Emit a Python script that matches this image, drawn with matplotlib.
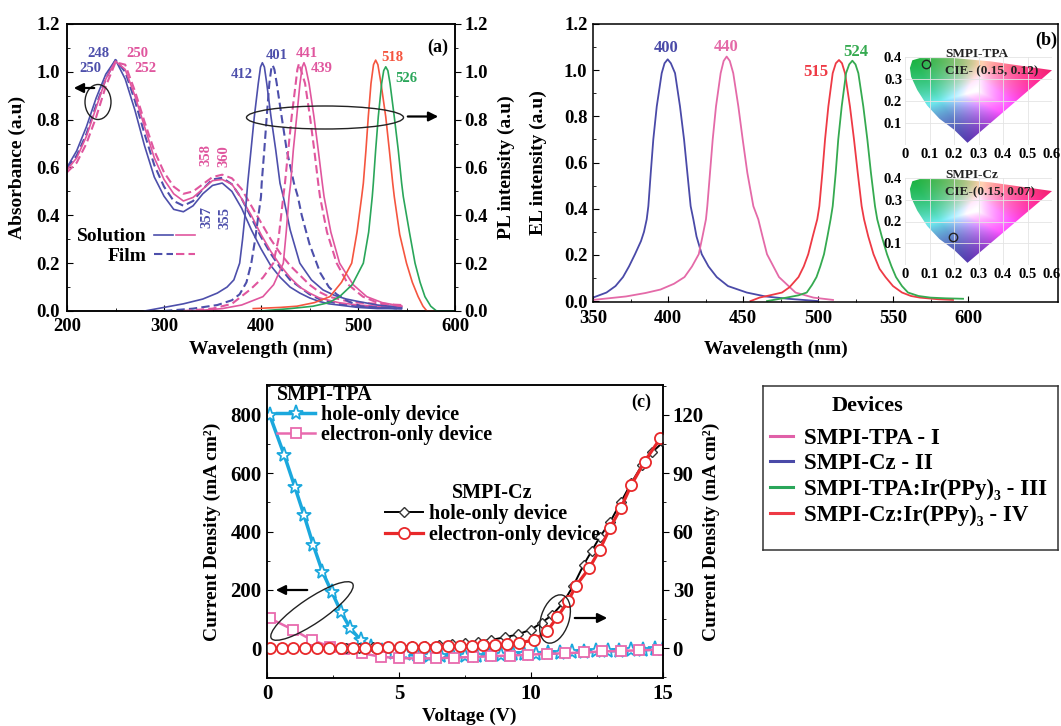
import numpy as np
import matplotlib
matplotlib.use("Agg")
import matplotlib.pyplot as plt
from matplotlib.patches import Ellipse, Polygon, FancyArrowPatch
from matplotlib.lines import Line2D
from matplotlib.legend_handler import HandlerTuple
from matplotlib.ticker import MultipleLocator, FixedLocator, FormatStrFormatter

plt.rcParams['font.family'] = ['Liberation Serif', 'DejaVu Serif']
plt.rcParams['font.weight'] = 'bold'
plt.rcParams['axes.labelweight'] = 'bold'
plt.rcParams['axes.linewidth'] = 1.1

# ============================================================
# (a) Absorption + PL
# ============================================================
abs_wl = [200, 210, 220, 230, 240, 250, 260, 270, 280, 290, 300, 310, 320, 330, 340, 350,
          360, 370, 380, 390, 400, 410, 420, 430, 440, 450, 460, 470, 480, 490, 500, 520, 545]
abs_cz_sol = [0.60, 0.67, 0.77, 0.89, 0.99, 1.05, 0.97, 0.84, 0.69, 0.56, 0.48, 0.425, 0.415,
              0.44, 0.49, 0.525, 0.535, 0.50, 0.43, 0.34, 0.26, 0.19, 0.14, 0.10, 0.075, 0.055,
              0.04, 0.03, 0.025, 0.02, 0.015, 0.01, 0.01]
abs_cz_film = [0.60, 0.65, 0.74, 0.86, 0.97, 1.05, 1.00, 0.88, 0.74, 0.61, 0.52, 0.46, 0.44,
               0.46, 0.51, 0.55, 0.557, 0.53, 0.47, 0.39, 0.31, 0.24, 0.18, 0.13, 0.10, 0.07,
               0.05, 0.04, 0.03, 0.025, 0.02, 0.015, 0.01]
abs_tpa_sol = [0.59, 0.64, 0.73, 0.85, 0.97, 1.045, 1.01, 0.90, 0.77, 0.64, 0.55, 0.49, 0.46,
               0.475, 0.51, 0.545, 0.55, 0.53, 0.47, 0.40, 0.32, 0.25, 0.19, 0.14, 0.10, 0.075,
               0.055, 0.045, 0.035, 0.03, 0.025, 0.02, 0.02]
abs_tpa_film = [0.58, 0.62, 0.70, 0.81, 0.94, 1.04, 1.03, 0.92, 0.79, 0.67, 0.58, 0.52, 0.49,
                0.50, 0.53, 0.56, 0.57, 0.555, 0.51, 0.44, 0.37, 0.30, 0.24, 0.19, 0.15, 0.11,
                0.08, 0.06, 0.05, 0.04, 0.035, 0.03, 0.025]

pl_cz_sol_wl = [280, 300, 320, 340, 355, 365, 372, 378, 381, 384, 386.3, 389.7, 393.1, 397.2,
                399.5, 401.4, 403.5, 405.9, 410.3, 415.2, 419.6, 423, 430, 440, 452, 464, 476,
                488, 500, 520, 545]
pl_cz_sol = [0.0, 0.015, 0.03, 0.05, 0.075, 0.1, 0.13, 0.2, 0.3, 0.42, 0.534, 0.673, 0.812,
             0.952, 1.02, 1.038, 1.02, 0.952, 0.812, 0.673, 0.534, 0.478, 0.34, 0.2, 0.13,
             0.088, 0.065, 0.05, 0.04, 0.025, 0.015]
pl_cz_film_wl = [300, 330, 355, 370, 378, 385, 390, 394, 397, 400, 400.7, 403.4, 405.9, 408.6,
                 410.5, 412, 413.8, 416.2, 421.3, 426.5, 434, 438, 442, 450, 461, 470, 478, 490,
                 503, 520, 545]
pl_cz_film = [0.0, 0.01, 0.025, 0.045, 0.07, 0.12, 0.2, 0.3, 0.39, 0.478, 0.534, 0.673, 0.812,
              0.952, 1.01, 1.028, 1.01, 0.952, 0.812, 0.673, 0.534, 0.478, 0.4, 0.28, 0.16, 0.1,
              0.07, 0.04, 0.02, 0.015, 0.01]
pl_tpa_film_wl = [320, 350, 370, 389, 402, 412.7, 418, 423, 424.7, 428.1, 431.6, 435.8, 437.5,
                  439.2, 441, 445.4, 450.5, 454.9, 459, 460.8, 468, 478, 490, 505, 520, 545]
pl_tpa_film = [0.0, 0.01, 0.03, 0.09, 0.14, 0.2, 0.3, 0.478, 0.534, 0.673, 0.812, 0.952, 1.01,
               1.035, 1.01, 0.952, 0.812, 0.673, 0.534, 0.478, 0.33, 0.2, 0.11, 0.06, 0.035,
               0.02]
pl_tpa_sol_wl = [330, 360, 380, 402, 413, 423, 426, 428.9, 430.6, 433.3, 436.8, 440.2, 442.5,
                 444.3, 446, 449.5, 454.6, 459, 463.2, 465, 472, 481, 495, 509, 525, 545]
pl_tpa_sol = [0.0, 0.01, 0.025, 0.06, 0.11, 0.2, 0.33, 0.478, 0.534, 0.673, 0.812, 0.952, 1.02,
              1.038, 1.02, 0.952, 0.812, 0.673, 0.534, 0.478, 0.33, 0.2, 0.11, 0.06, 0.035,
              0.02]
pl_cz_ir_wl = [392, 420, 437, 455, 471, 483, 493.5, 499, 503.8, 505.5, 508.2, 510.6, 513.4, 516,
               518.2, 520.5, 523.7, 528.6, 532.3, 535.8, 537.4, 543, 550, 556, 562, 567, 571,
               580]
pl_cz_ir = [0.01, 0.015, 0.02, 0.035, 0.06, 0.12, 0.2, 0.33, 0.478, 0.534, 0.673, 0.812, 0.952,
            1.03, 1.049, 1.03, 0.952, 0.812, 0.673, 0.534, 0.478, 0.32, 0.2, 0.12, 0.06, 0.02,
            0.0, 0.0]
pl_tpa_ir_wl = [400, 430, 453.6, 470, 481, 494, 505.5, 511, 514.7, 515.8, 518.2, 520.9, 524.4,
                526.5, 528.6, 530.8, 533, 537.4, 541.5, 545, 546.7, 553, 558.8, 564, 569, 575,
                581, 600]
pl_tpa_ir = [0.0, 0.01, 0.02, 0.035, 0.06, 0.11, 0.2, 0.33, 0.478, 0.534, 0.673, 0.812, 0.952,
             1.005, 1.021, 1.005, 0.952, 0.812, 0.673, 0.534, 0.478, 0.33, 0.2, 0.12, 0.06,
             0.02, 0.0, 0.0]

# ============================================================
# (b) EL spectra + CIE
# ============================================================
el_cz_wl = [350, 359, 365, 370, 374, 378, 382, 384, 385.8, 386.9, 388.5, 390.2, 392.5, 395.8,
            397.7, 399.8, 401.9, 404.7, 408, 410.7, 412.9, 415.1, 416.9, 419, 422.5, 427, 432.5,
            440, 452.5, 465, 480, 500]
el_cz = [0.015, 0.037, 0.065, 0.104, 0.15, 0.203, 0.26, 0.3, 0.354, 0.411, 0.555, 0.7, 0.843,
         0.987, 1.03, 1.047, 1.03, 0.987, 0.843, 0.7, 0.555, 0.411, 0.354, 0.28, 0.203, 0.15,
         0.104, 0.065, 0.037, 0.02, 0.01, 0.0]
el_tpa_wl = [350, 372, 385, 395, 404, 411, 416, 420.5, 423, 425.3, 426.2, 428, 429.8, 432, 435.1,
             437.1, 439.1, 441.2, 443.5, 446.9, 449.8, 452.9, 456.9, 460.2, 463, 466, 474, 485,
             497, 510]
el_tpa = [0.005, 0.02, 0.035, 0.05, 0.075, 0.104, 0.15, 0.203, 0.28, 0.354, 0.411, 0.555, 0.7,
          0.843, 0.987, 1.04, 1.059, 1.04, 0.987, 0.843, 0.7, 0.555, 0.411, 0.354, 0.28, 0.203,
          0.104, 0.037, 0.015, 0.005]
el_cz_ir_wl = [455, 461, 468, 476, 481, 487, 490.5, 493.5, 496.5, 499.5, 500.9, 502.9, 504.7,
               506.9, 509.8, 511.9, 514, 516, 518, 521.3, 524, 526.5, 529.1, 530.7, 533.5, 537,
               541, 545, 550, 556, 562, 568, 580, 590]
el_cz_ir = [0.0, 0.015, 0.025, 0.037, 0.06, 0.104, 0.15, 0.203, 0.28, 0.354, 0.411, 0.555, 0.7,
            0.843, 0.987, 1.03, 1.044, 1.03, 0.987, 0.843, 0.7, 0.555, 0.411, 0.354, 0.28, 0.203,
            0.14, 0.104, 0.065, 0.037, 0.022, 0.015, 0.008, 0.005]
el_tpa_ir_wl = [466, 479, 487, 492.5, 496, 499, 501.5, 504, 506.3, 508.4, 509.8, 511.8, 513.5,
                515.8, 518.7, 520.8, 522.9, 525, 526.9, 530.2, 532.9, 535.3, 538, 539.5, 542.5,
                546, 549, 552, 556, 560, 567, 575, 585, 596.7]
el_tpa_ir = [0.0, 0.015, 0.025, 0.037, 0.07, 0.104, 0.15, 0.203, 0.28, 0.354, 0.411, 0.555, 0.7,
             0.843, 0.987, 1.025, 1.041, 1.025, 0.987, 0.843, 0.7, 0.555, 0.411, 0.354, 0.28,
             0.203, 0.15, 0.104, 0.065, 0.037, 0.022, 0.015, 0.012, 0.01]
cie_tpa_xy = (0.086, 0.37)
cie_cz_xy = (0.196, 0.13)

# ============================================================
# (c) single-carrier devices
# ============================================================
tpa_hole_v = [0.1, 0.65, 1.05, 1.4, 1.75, 2.1, 2.45, 2.8, 3.15, 3.55, 3.95, 4.35, 4.8, 5.25,
              5.7, 6.15, 6.6, 7.05, 7.5, 7.95, 8.4, 8.85, 9.3, 9.75, 10.2, 10.65, 11.1, 11.55,
              12.0, 12.45, 12.9, 13.35, 13.8, 14.25, 14.7, 15.0]
tpa_hole_j = [800, 663, 554, 457, 354, 262, 193, 125, 68, 27, 3, -10, -18, -22, -25, -27, -28,
              -28, -27, -26, -25, -24, -22, -21, -19, -18, -16, -15, -13, -12, -10, -9, -7,
              -6, -4, -3]
tpa_elec_v = [0.1, 1.0, 1.7, 2.4, 2.9, 3.6, 4.3, 5.0, 5.75, 6.4, 7.1, 7.8, 8.5, 9.2, 9.9, 10.6,
              11.3, 12.0, 12.7, 13.4, 14.1, 14.8]
tpa_elec_j = [102, 62, 27, 5, -5, -18, -30, -35, -36, -35, -33, -31, -28, -26, -23, -20, -18,
              -15, -12, -10, -8, -6]
cz_hole_v = [3.0, 3.5, 4.0, 4.5, 5.0, 5.5, 6.0, 6.5, 7.0, 7.5, 8.0, 8.5, 9.0, 9.5, 10.0, 10.4,
             10.8, 11.2, 11.6, 12.0, 12.3, 12.6, 13.0, 13.4, 13.8, 14.2, 14.6, 15.0]
cz_hole_j = [0, 0, 0.3, 0.5, 0.7, 1, 1.2, 1.5, 2, 2.5, 3.3, 4.2, 5.5, 7, 9.5, 13, 17, 23, 32,
             43, 50, 57, 65, 75, 85, 94, 101, 106]
cz_elec_v = [0.1, 0.55, 1.0, 1.45, 1.9, 2.35, 2.8, 3.25, 3.7, 4.15, 4.6, 5.05, 5.5, 5.95, 6.4,
             6.85, 7.3, 7.75, 8.2, 8.65, 9.1, 9.55, 10.1, 10.6, 11.0, 11.4, 11.7, 12.2, 12.6,
             13.0, 13.4, 13.8, 14.3, 14.9]
cz_elec_j = [0, 0, 0, 0, 0, 0, 0, 0, 0, 0.2, 0.3, 0.4, 0.5, 0.6, 0.7, 0.8, 1.0, 1.2, 1.4, 1.6,
             2.0, 2.7, 4, 8.5, 16, 24, 32, 41, 50.5, 62, 72, 84, 96, 108]

device_labels = ["SMPI-TPA - I", "SMPI-Cz - II", "SMPI-TPA:Ir(PPy)\u2083 - III",
                 "SMPI-Cz:Ir(PPy)\u2083 - IV"]

BLUE = '#4d4fab'
PINK = '#e0569e'
RED_A = '#f5553f'
GREEN = '#2aa65a'
RED = '#ee3a45'
CYAN = '#1ba8dd'

W, H = 1061, 726


def box(l, t, r, b):
    return [l / W, 1 - b / H, (r - l) / W, (b - t) / H]


def pin(x, y):
    # Bildpixel -> Zoll (fuer Ellipsen / Pfeile)
    return x / 100.0, (H - y) / 100.0


fig = plt.figure(figsize=(W / 100, H / 100), dpi=100)


def arrow(x0, y0, x1, y1):
    fig.add_artist(FancyArrowPatch(pin(x0, y0), pin(x1, y1), transform=fig.dpi_scale_trans,
                                   arrowstyle='-|>', mutation_scale=14, lw=1.6, color='k'))


def ellipse(cx, cy, w, h, ang=0):
    fig.add_artist(Ellipse(pin(cx, cy), w / 100, h / 100, angle=ang,
                           transform=fig.dpi_scale_trans, fill=False, ec='#222222', lw=1.0))


def style_ticks(ax, direction, size):
    ax.tick_params(which='both', direction=direction, labelsize=size)
    ax.tick_params(which='major', length=4)
    ax.tick_params(which='minor', length=2.5)


# -----------------------------
# Panel (a)
# -----------------------------
axa = fig.add_axes(box(67, 24, 455, 311))
axa2 = axa.twinx()
l1, = axa.plot(abs_wl, abs_cz_sol, color=BLUE, lw=1.2)
l2, = axa.plot(abs_wl, abs_cz_film, color=BLUE, lw=1.5, ls=(0, (4, 2)))
l3, = axa.plot(abs_wl, abs_tpa_sol, color=PINK, lw=1.2)
l4, = axa.plot(abs_wl, abs_tpa_film, color=PINK, lw=1.5, ls=(0, (4, 2)))
axa2.plot(pl_cz_sol_wl, pl_cz_sol, color=BLUE, lw=1.2)
axa2.plot(pl_cz_film_wl, pl_cz_film, color=BLUE, lw=1.5, ls=(0, (4, 2)))
axa2.plot(pl_tpa_film_wl, pl_tpa_film, color=PINK, lw=1.5, ls=(0, (4, 2)))
axa2.plot(pl_tpa_sol_wl, pl_tpa_sol, color=PINK, lw=1.2)
axa2.plot(pl_cz_ir_wl, pl_cz_ir, color=RED_A, lw=1.2)
axa2.plot(pl_tpa_ir_wl, pl_tpa_ir, color=GREEN, lw=1.2)

for ax in (axa, axa2):
    ax.set_xlim(200, 600)
    ax.set_ylim(0, 1.2)
    ax.yaxis.set_major_locator(MultipleLocator(0.2))
    ax.yaxis.set_minor_locator(MultipleLocator(0.1))
    ax.yaxis.set_major_formatter(FormatStrFormatter('%.1f'))
axa.xaxis.set_major_locator(MultipleLocator(100))
axa.xaxis.set_minor_locator(MultipleLocator(50))
style_ticks(axa, 'in', 13.5)
axa.tick_params(pad=5)
style_ticks(axa2, 'out', 13.5)
axa2.tick_params(pad=3)
axa.set_xlabel('Wavelength (nm)', fontsize=14)
axa.set_ylabel('Absorbance (a.u)', fontsize=14)
axa2.set_ylabel('PL intensity (a.u)', fontsize=14)
axa.xaxis.set_label_coords(0.5, -0.105)
axa.yaxis.set_label_coords(-0.105, 0.5)
axa2.yaxis.set_label_coords(1.11, 0.5)

ann_a = [("248", 232, 1.078, BLUE, 0), ("250", 224.5, 1.012, BLUE, 0),
         ("250", 273, 1.078, PINK, 0), ("252", 281, 1.016, PINK, 0),
         ("412", 380, 0.987, BLUE, 0), ("401", 416.5, 1.07, BLUE, 0),
         ("441", 447, 1.078, PINK, 0), ("439", 463, 1.016, PINK, 0),
         ("358", 343, 0.652, PINK, 90), ("360", 362, 0.648, PINK, 90),
         ("357", 344, 0.393, BLUE, 90), ("355", 363, 0.389, BLUE, 90),
         ("518", 535.5, 1.062, RED_A, 0), ("526", 550, 0.974, GREEN, 0)]
for txt, x, y, c, rot in ann_a:
    axa.text(x, y, txt, color=c, fontsize=10.5, ha='center', va='center', rotation=rot)
axa.text(0.955, 0.92, '(a)', transform=axa.transAxes, fontsize=13, ha='center', va='center')

axa.legend([(l1, l3), (l2, l4)], ['Solution', 'Film'],
           handler_map={tuple: HandlerTuple(ndivide=None, pad=0.15)},
           loc='upper left', bbox_to_anchor=(0.025, 0.29), frameon=False,
           markerfirst=False, fontsize=14, handlelength=2.1, handletextpad=0.4,
           labelspacing=0.1, borderpad=0, borderaxespad=0)

ellipse(98, 102, 26, 35)
arrow(97, 88, 71, 88)
ellipse(325, 117.5, 157, 23)
arrow(405, 116.5, 441, 116.5)

# -----------------------------
# Panel (b)
# -----------------------------
axb = fig.add_axes(box(593, 24, 1058, 302))
axb.plot(el_cz_wl, el_cz, color='#4a4aa8', lw=1.3)
axb.plot(el_tpa_wl, el_tpa, color='#e46aa8', lw=1.3)
axb.plot(el_cz_ir_wl, el_cz_ir, color=RED, lw=1.3)
axb.plot(el_tpa_ir_wl, el_tpa_ir, color='#35aa50', lw=1.3)
axb.set_xlim(350, 660)
axb.set_ylim(-0.004, 1.2)
axb.xaxis.set_major_locator(FixedLocator([350, 400, 450, 500, 550, 600]))
axb.xaxis.set_minor_locator(FixedLocator([375, 425, 475, 525, 575]))
axb.yaxis.set_major_locator(MultipleLocator(0.2))
axb.yaxis.set_minor_locator(MultipleLocator(0.1))
axb.yaxis.set_major_formatter(FormatStrFormatter('%.1f'))
style_ticks(axb, 'in', 13.5)
axb.tick_params(axis='y', pad=4)
axb.tick_params(axis='x', pad=6)
axb.set_xlabel('Wavelength (nm)', fontsize=14)
axb.set_ylabel('EL intensity (a.u)', fontsize=14)
axb.xaxis.set_label_coords(0.394, -0.14)
axb.yaxis.set_label_coords(-0.098, 0.5)
ann_b = [("400", 399, 1.096, '#4a4aa8'), ("440", 438.7, 1.1, '#e46aa8'),
         ("515", 498.7, 0.993, RED), ("524", 525, 1.079, '#35aa50')]
for txt, x, y, c in ann_b:
    axb.text(x, y, txt, color=c, fontsize=12, ha='center', va='center')
axb.text(0.975, 0.94, '(b)', transform=axb.transAxes, fontsize=13, ha='center', va='center')

# CIE-Einsaetze (Farbverlauf nur Dekoration)
gx = np.linspace(0, 0.6, 300)
gy = np.linspace(0, 0.4, 200)
GX, GY = np.meshgrid(gx, gy)
verts = np.array([[0.03, 0.39], [0.6, 0.34], [0.255, 0.01]])
vcol = np.array([[0.10, 0.70, 0.25], [0.95, 0.12, 0.45], [0.33, 0.22, 0.68]])
T = np.array([[verts[0, 0] - verts[2, 0], verts[1, 0] - verts[2, 0]],
              [verts[0, 1] - verts[2, 1], verts[1, 1] - verts[2, 1]]])
Ti = np.linalg.inv(T)
dx, dy = GX - verts[2, 0], GY - verts[2, 1]
w0 = Ti[0, 0] * dx + Ti[0, 1] * dy
w1 = Ti[1, 0] * dx + Ti[1, 1] * dy
wts = np.clip(np.stack([w0, w1, 1 - w0 - w1], -1), 0, None)
wts = wts / np.maximum(wts.max(-1, keepdims=True), 1e-6)
rgb = np.clip(wts @ vcol, 0, 1)
gamut = [(0.02, 0.35), (0.03, 0.385), (0.06, 0.395), (0.2, 0.395), (0.35, 0.38), (0.6, 0.34),
         (0.255, 0.01), (0.2, 0.07), (0.14, 0.12), (0.09, 0.18), (0.05, 0.25), (0.025, 0.31)]


def cie_inset(top, bottom, mark, name, cie):
    ax = fig.add_axes(box(905, top, 1052, bottom))
    ax.set_facecolor('none')
    ax.set_xlim(0, 0.6)
    ax.set_ylim(0, 0.4)
    for s in ax.spines.values():
        s.set_visible(False)
    ax.set_xticks([0, 0.1, 0.2, 0.3, 0.4, 0.5, 0.6],
                  ['0', '0.1', '0.2', '0.3', '0.4', '0.5', '0.6'])
    ax.set_yticks([0.1, 0.2, 0.3, 0.4], ['0.1', '0.2', '0.3', '0.4'])
    ax.tick_params(length=0, labelsize=10.5, pad=2)
    ax.grid(True, color='#e4e4e4', lw=0.6)
    poly = Polygon(gamut, closed=True, fc='none', ec='none')
    ax.add_patch(poly)
    im = ax.imshow(rgb, extent=[0, 0.6, 0, 0.4], origin='lower', aspect='auto',
                   interpolation='bilinear')
    im.set_clip_path(poly)
    ax.plot([mark[0]], [mark[1]], 'o', mfc='none', mec='#222222', ms=6, mew=1)
    ax.text(0.163, 0.414, name, fontsize=9.5, color='#222222', va='center', clip_on=False)
    ax.text(0.163, 0.336, cie, fontsize=9.5, color='#222222', va='center', clip_on=False)


cie_inset(57, 145, cie_tpa_xy, 'SMPI-TPA', 'CIE- (0.15, 0.12)')
cie_inset(178, 265, cie_cz_xy, 'SMPI-Cz', 'CIE-(0.15, 0.07)')

# -----------------------------
# Panel (c)
# -----------------------------
axc = fig.add_axes(box(267, 385, 663, 678))
axc2 = axc.twinx()
hs, = axc.plot(tpa_hole_v, tpa_hole_j, color=CYAN, lw=2.5, marker='*', ms=11, mfc='white',
               mec=CYAN, mew=1.3)
hq, = axc.plot(tpa_elec_v, tpa_elec_j, color='#e86aae', lw=1.8, marker='s', ms=7, mfc='white',
               mec='#e86aae', mew=1.3)
hd, = axc2.plot(cz_hole_v, cz_hole_j, color='k', lw=1.4, marker='D', ms=5, mfc='white',
                mec='#333333', mew=1.0)
hc, = axc2.plot(cz_elec_v, cz_elec_j, color='#e8282a', lw=2.3, marker='o', ms=8, mfc='white',
                mec='#e8282a', mew=1.3)
axc.set_xlim(0, 15)
axc.set_ylim(-103, 903)
axc2.set_ylim(-15.45, 135.45)
axc.xaxis.set_major_locator(MultipleLocator(5))
axc.xaxis.set_minor_locator(MultipleLocator(2.5))
axc.yaxis.set_major_locator(MultipleLocator(200))
axc.yaxis.set_minor_locator(MultipleLocator(100))
axc2.yaxis.set_major_locator(MultipleLocator(30))
axc2.yaxis.set_minor_locator(MultipleLocator(15))
style_ticks(axc, 'in', 15)
axc.tick_params(pad=4)
style_ticks(axc2, 'out', 15)
axc2.tick_params(pad=3)
axc.set_xlabel('Voltage (V)', fontsize=14)
axc.set_ylabel('Current Density (mA cm\u00b2)', fontsize=14)
axc2.set_ylabel('Current Density (mA cm\u00b2)', fontsize=14)
axc.xaxis.set_label_coords(0.51, -0.1)
axc.yaxis.set_label_coords(-0.115, 0.5)
axc2.yaxis.set_label_coords(1.1, 0.5)
axc.text(0.945, 0.94, '(c)', transform=axc.transAxes, fontsize=13, ha='center', va='center')

leg1 = axc2.legend([hs, hq], ['hole-only device', 'electron-only device'], title='SMPI-TPA',
                   loc='upper left', bbox_to_anchor=(0.025, 1.0), frameon=False,
                   alignment='left', fontsize=14.5, title_fontsize=14.5, handlelength=1.9,
                   handletextpad=0.3, labelspacing=0.0, borderpad=0, borderaxespad=0,
                   numpoints=1)
axc2.add_artist(leg1)
axc2.legend([hd, hc], ['hole-only device', 'electron-only device'], title='SMPI-Cz',
            loc='upper left', bbox_to_anchor=(0.298, 0.665), frameon=False,
            alignment='center', fontsize=14.5, title_fontsize=14.5, handlelength=1.9,
            handletextpad=0.3, labelspacing=0.05, borderpad=0, borderaxespad=0,
            numpoints=1)

ellipse(312, 611, 98, 25, 34)
arrow(310, 590, 273, 590)
ellipse(555, 619, 28, 50, -18)
arrow(572, 618, 610, 618)

# -----------------------------
# Devices legend
# -----------------------------
axl = fig.add_axes(box(763, 386, 1058, 550))
axl.set_xticks([])
axl.set_yticks([])
for s in axl.spines.values():
    s.set_color('#333333')
axl.text((868 - 763) / 295, 0.88, 'Devices', fontsize=16, ha='center', va='center',
         transform=axl.transAxes)
dev_handles = [Line2D([], [], color=c, lw=2.2)
               for c in ('#e060a8', '#4a4aa8', '#2aa65a', '#ee3a45')]
axl.legend(dev_handles, device_labels, loc='upper left', bbox_to_anchor=(0.025, 0.745),
           frameon=False, fontsize=16.5, handlelength=1.0, handletextpad=0.45,
           labelspacing=0.2, borderpad=0, borderaxespad=0)

fig.savefig('out.png', dpi=100)
